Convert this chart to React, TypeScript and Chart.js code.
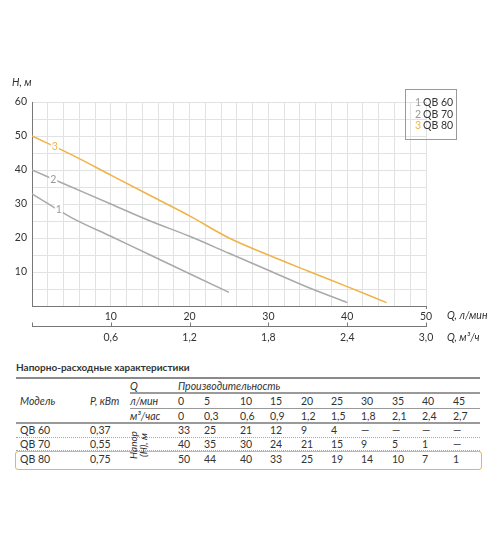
import { useEffect, useRef } from "react";
import { Chart, registerables, type Plugin } from "chart.js";

Chart.register(...registerables);

// flow points for the curves (л/мин)
const FLOW_LPM = [0, 5, 10, 15, 20, 25, 30, 35, 40, 45];
const FLOW_M3H = ["0", "0,3", "0,6", "0,9", "1,2", "1,5", "1,8", "2,1", "2,4", "2,7"];

// heads as drawn on the plot
const CURVE_QB60 = [33, 26, 20.5, 15, 9.5, 4];
const CURVE_QB70 = [40, 35, 30, 25, 20.5, 15.5, 10.5, 5.5, 1];
const CURVE_QB80 = [50, 44.5, 38.5, 32.5, 26.5, 20, 15, 10.3, 5.7, 1];

// table values
const MODELS = ["QB 60", "QB 70", "QB 80"];
const POWER_KW = ["0,37", "0,55", "0,75"];
const HEAD_QB60 = [33, 25, 21, 12, 9, 4, null, null, null, null];
const HEAD_QB70 = [40, 35, 30, 24, 21, 15, 9, 5, 1, null];
const HEAD_QB80 = [50, 44, 40, 33, 25, 19, 14, 10, 7, 1];

const M3H_TICKS = [0.6, 1.2, 1.8, 2.4, 3.0];

const GRAY = "#a9a9a9";
const ORANGE = "#f0b347";
const TEXT = "#333";
const FONT = "Lato, 'Open Sans', sans-serif";
const FS = 10.5;

const curves = [
  { label: "QB 60", num: "1", heads: CURVE_QB60, color: GRAY, numColor: "#9a9a9a", at: 3.4 },
  { label: "QB 70", num: "2", heads: CURVE_QB70, color: GRAY, numColor: "#9a9a9a", at: 2.7 },
  { label: "QB 80", num: "3", heads: CURVE_QB80, color: ORANGE, numColor: ORANGE, at: 2.9 },
];

const extras: Plugin<"line"> = {
  id: "extras",
  afterDraw(chart) {
    const { ctx, chartArea, scales } = chart;
    const x = scales.x;
    const y = scales.y;
    ctx.save();

    // closing tick on the main x axis
    ctx.strokeStyle = "#777";
    ctx.lineWidth = 1;
    ctx.beginPath();
    ctx.moveTo(chartArea.right + 0.5, chartArea.bottom);
    ctx.lineTo(chartArea.right + 0.5, chartArea.bottom + 3);
    ctx.stroke();

    // second axis in m3/h
    const ax = 326.5;
    ctx.beginPath();
    ctx.moveTo(chartArea.left, ax);
    ctx.lineTo(chartArea.right + 1, ax);
    const tickX = [0, ...M3H_TICKS].map(v => x.getPixelForValue((v * 1000) / 60));
    for (const px of tickX) {
      ctx.moveTo(Math.round(px) + 0.5, ax);
      ctx.lineTo(Math.round(px) + 0.5, ax - 4);
    }
    ctx.stroke();

    ctx.fillStyle = TEXT;
    ctx.font = `${FS}px ${FONT}`;
    ctx.textAlign = "center";
    ctx.textBaseline = "middle";
    M3H_TICKS.forEach(v => {
      ctx.fillText(v.toFixed(1).replace(".", ","), x.getPixelForValue((v * 1000) / 60), 338);
    });

    // axis titles
    ctx.font = `italic ${FS}px ${FONT}`;
    ctx.textAlign = "left";
    ctx.fillText("H, м", 12, 83);
    ctx.fillText("Q, л/мин", 447, 316);
    ctx.fillText("Q, м³/ч", 447, 338);

    // curve numbers
    ctx.font = `${FS}px ${FONT}`;
    ctx.textAlign = "center";
    for (const c of curves) {
      const i = Math.floor(c.at / 5);
      const t = (c.at - FLOW_LPM[i]) / 5;
      const h = c.heads[i] + (c.heads[i + 1] - c.heads[i]) * t;
      const px = x.getPixelForValue(c.at);
      const py = y.getPixelForValue(h);
      ctx.fillStyle = "#fff";
      ctx.fillRect(px - 4, py - 6, 8, 12);
      ctx.fillStyle = c.numColor;
      ctx.fillText(c.num, px, py);
    }

    // legend box
    ctx.strokeStyle = "#999";
    ctx.strokeRect(405.5, 89.5, 51, 50);
    ctx.textAlign = "left";
    curves.forEach((c, k) => {
      const ly = 103 + k * 11.3;
      ctx.fillStyle = c.numColor;
      ctx.fillText(c.num, 415, ly);
      ctx.fillStyle = TEXT;
      ctx.fillText(c.label, 423, ly);
    });

    ctx.restore();
  },
};

function PumpChart() {
  const canvasRef = useRef<HTMLCanvasElement>(null);
  const chartRef = useRef<Chart | null>(null);

  useEffect(() => {
    if (!canvasRef.current) return;
    chartRef.current?.destroy();

    chartRef.current = new Chart(canvasRef.current, {
      type: "line",
      data: {
        datasets: curves.map(c => ({
          label: c.label,
          data: c.heads.map((h, i) => ({ x: FLOW_LPM[i], y: h })),
          borderColor: c.color,
          borderWidth: 1.5,
          pointRadius: 0,
          cubicInterpolationMode: "monotone" as const,
        })),
      },
      options: {
        animation: false,
        responsive: false,
        events: [],
        layout: { padding: { top: 102, right: 74, left: 0, bottom: 0 } },
        scales: {
          x: {
            type: "linear",
            min: 0,
            max: 50,
            afterFit: s => { s.height = 49; },
            border: { color: "#777" },
            grid: { color: "#e2e2e2", drawTicks: false },
            ticks: {
              stepSize: 2,
              autoSkip: false,
              maxRotation: 0,
              padding: 4,
              color: TEXT,
              font: { family: FONT, size: FS },
              callback: v => (Number(v) % 10 === 0 && Number(v) !== 0 ? String(v) : ""),
            },
          },
          y: {
            min: 0,
            max: 60,
            afterFit: s => { s.width = 32; },
            border: { color: "#777" },
            grid: { color: "#e2e2e2", drawTicks: false },
            ticks: {
              stepSize: 5,
              autoSkip: false,
              padding: 5,
              color: TEXT,
              font: { family: FONT, size: FS },
              callback: v => (Number(v) % 10 === 0 && Number(v) !== 0 ? String(v) : ""),
            },
          },
        },
        plugins: { legend: { display: false }, tooltip: { enabled: false } },
      },
      plugins: [extras],
    });

    return () => {
      chartRef.current?.destroy();
      chartRef.current = null;
    };
  }, []);

  return <canvas ref={canvasRef} width={500} height={355} style={{ position: "absolute", left: 0, top: 0 }} />;
}

// value column positions
const COLS = [178, 204, 240, 270, 301, 331, 361, 392, 422, 453];

function Txt({ x, y, children, italic, bold }: { x: number; y: number; children: React.ReactNode; italic?: boolean; bold?: boolean }) {
  return (
    <span
      style={{
        position: "absolute",
        left: x,
        top: y - 8,
        lineHeight: "16px",
        fontSize: bold ? 10 : FS,
        fontStyle: italic ? "italic" : "normal",
        fontWeight: bold ? 700 : 400,
        whiteSpace: "nowrap",
        color: TEXT,
      }}
    >
      {children}
    </span>
  );
}

function Rule({ x, y, w, style }: { x: number; y: number; w: number; style: string }) {
  return <div style={{ position: "absolute", left: x, top: y, width: w, borderTop: style }} />;
}

function PerfTable() {
  const heads = [HEAD_QB60, HEAD_QB70, HEAD_QB80];
  const rowY = [430, 444, 459];
  return (
    <>
      <Txt x={16} y={367} bold>Напорно-расходные характеристики</Txt>
      <Rule x={16} y={377} w={464} style="2px solid #8a8a8a" />
      <Txt x={130} y={386} italic>Q</Txt>
      <Txt x={178} y={386} italic>Производительность</Txt>
      <Rule x={130} y={392} w={350} style="2px solid #9a9a9a" />
      <Txt x={20} y={401} italic>Модель</Txt>
      <Txt x={90} y={401} italic>P, кВт</Txt>
      <Txt x={130} y={401} italic>л/мин</Txt>
      {FLOW_LPM.map((f, i) => <Txt key={"f" + i} x={COLS[i]} y={401}>{f}</Txt>)}
      <Rule x={130} y={408} w={350} style="1px solid #9a9a9a" />
      <Txt x={130} y={416} italic>м³/час</Txt>
      {FLOW_M3H.map((f, i) => <Txt key={"m" + i} x={COLS[i]} y={416}>{f}</Txt>)}
      <Rule x={16} y={422} w={464} style="2px solid #9a9a9a" />
      <Rule x={16} y={437} w={464} style="1px dotted #aaa" />
      <Rule x={16} y={450} w={464} style="1px dotted #aaa" />
      <div
        style={{
          position: "absolute",
          left: 15,
          top: 451,
          width: 465,
          height: 17,
          border: `1px solid ${ORANGE}`,
          borderRadius: 3,
        }}
      />
      <div
        style={{
          position: "absolute",
          left: 124,
          top: 432,
          width: 34,
          height: 26,
          transform: "rotate(-90deg)",
          fontSize: 10,
          lineHeight: "10px",
          fontStyle: "italic",
          color: TEXT,
          textAlign: "center",
        }}
      >
        Напор<br />(H), м
      </div>
      {MODELS.map((m, r) => (
        <span key={m}>
          <Txt x={20} y={rowY[r]}>{m}</Txt>
          <Txt x={90} y={rowY[r]}>{POWER_KW[r]}</Txt>
          {heads[r].map((h, i) => (
            <Txt key={i} x={COLS[i]} y={rowY[r]}>{h === null ? "—" : h}</Txt>
          ))}
        </span>
      ))}
    </>
  );
}

export default function App() {
  return (
    <div
      style={{
        position: "absolute",
        left: 0,
        top: 0,
        width: 500,
        height: 538,
        background: "#fff",
        fontFamily: FONT,
        overflow: "hidden",
      }}
    >
      <PumpChart />
      <PerfTable />
    </div>
  );
}
